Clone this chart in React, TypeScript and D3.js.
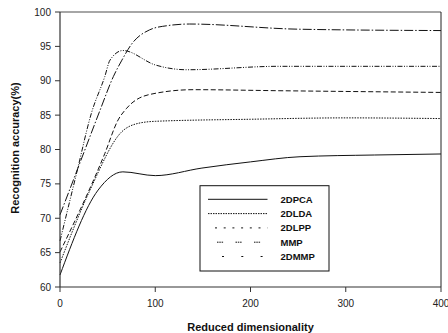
import React from "react";
import * as d3 from "d3";

const xTicks = [0, 100, 200, 300, 400];
const yTicks = [60, 65, 70, 75, 80, 85, 90, 95, 100];

const seriesNames = ["2DPCA", "2DLDA", "2DLPP", "MMP", "2DMMP"];

const dims2DPCA = [0, 40, 66, 100, 149, 200, 252, 330, 400];
const acc2DPCA = [61.75, 74.1, 76.75, 76.2, 77.3, 78.2, 78.95, 79.2, 79.35];

const dims2DLDA = [0, 31.5, 65, 82, 100, 200, 300, 400];
const acc2DLDA = [63.5, 74.1, 82.6, 83.8, 84.1, 84.4, 84.6, 84.5];

const dims2DLPP = [0, 47, 61, 70, 94, 140, 230, 400];
const acc2DLPP = [65.1, 79.4, 84.3, 86.0, 88.0, 88.7, 88.55, 88.3];

const dimsMMP = [0, 17.5, 33, 47, 52.5, 66, 100, 133, 230, 400];
const accMMP = [66.7, 76.6, 85.3, 90.6, 93.0, 94.4, 92.3, 91.6, 92.1, 92.1];

const dims2DMMP = [0, 10, 26, 42, 56, 65, 75, 94, 112, 136, 250, 400];
const acc2DMMP = [70.5, 74.1, 79.9, 85.7, 90.6, 93.0, 95.3, 97.4, 98.0, 98.25, 97.5, 97.3];

const allDims = [dims2DPCA, dims2DLDA, dims2DLPP, dimsMMP, dims2DMMP];
const allAcc = [acc2DPCA, acc2DLDA, acc2DLPP, accMMP, acc2DMMP];

const plotDash = ["", "1.5,1.2", "5,2.5", "5,1.5,1,1.5,1,1.5", "9,2,1.5,2"];
const legendDash = ["", "1.5,1", "2,6.7", "1.5,0.8,1.5,0.8,1.5,12.4", "2,17.3"];
const legendStart = [208, 208, 215, 217, 222];

const W = 448;
const H = 333;
const L = 60, R = 441, T = 12, B = 287;
const FONT = "'Liberation Sans', Arial, sans-serif";

export default function App() {
  const x = d3.scaleLinear().domain([0, 400]).range([L, R]);
  const y = d3.scaleLinear().domain([60, 100]).range([B, T]);
  const line = d3
    .line<[number, number]>()
    .x((d) => x(d[0]))
    .y((d) => y(d[1]))
    .curve(d3.curveMonotoneX);

  const legendY0 = 199.3;
  const legendStep = 14.3;

  return (
    <svg
      width={W}
      height={H}
      style={{ position: "absolute", left: 0, top: 0, background: "#fff" }}
    >
      {seriesNames.map((name, i) => {
        const pts = allDims[i].map((d, j) => [d, allAcc[i][j]] as [number, number]);
        return (
          <path
            key={name}
            d={line(pts) || ""}
            fill="none"
            stroke="#111"
            strokeWidth={1}
            strokeDasharray={plotDash[i] || undefined}
          />
        );
      })}

      <line x1={L} x2={R} y1={T} y2={T} stroke="#888" strokeWidth={1.6} />
      <line x1={R} x2={R} y1={T} y2={B} stroke="#222" strokeWidth={1} />
      <line x1={L} x2={L} y1={T} y2={B} stroke="#333" strokeWidth={1.2} />
      <line x1={L} x2={R} y1={B} y2={B} stroke="#333" strokeWidth={1.2} />

      {yTicks.map((t) => (
        <g key={"y" + t}>
          <line x1={L - 5} x2={L} y1={y(t)} y2={y(t)} stroke="#333" strokeWidth={1} />
          <text
            x={L - 9}
            y={y(t)}
            dy="0.35em"
            textAnchor="end"
            fontFamily={FONT}
            fontSize={10}
            fill="#222"
          >
            {t}
          </text>
        </g>
      ))}

      {xTicks.map((t) => (
        <g key={"x" + t}>
          <line x1={x(t)} x2={x(t)} y1={B} y2={B + 5} stroke="#333" strokeWidth={1} />
          <text
            x={x(t)}
            y={307}
            textAnchor="middle"
            fontFamily={FONT}
            fontSize={10}
            fill="#222"
          >
            {t}
          </text>
        </g>
      ))}

      <text
        x={(L + R) / 2}
        y={330.5}
        textAnchor="middle"
        fontFamily={FONT}
        fontSize={11}
        fontWeight="bold"
        fill="#111"
      >
        Reduced dimensionality
      </text>
      <text
        transform={`translate(19,148) rotate(-90)`}
        textAnchor="middle"
        fontFamily={FONT}
        fontSize={11}
        fontWeight="bold"
        fill="#111"
      >
        Recognition accuracy(%)
      </text>

      <rect x={200} y={185.7} width={129} height={85.3} fill="#fff" stroke="#111" strokeWidth={1} />
      {seriesNames.map((name, i) => {
        const ly = legendY0 + i * legendStep;
        return (
          <g key={"lg" + name}>
            <line
              x1={legendStart[i]}
              x2={267.5}
              y1={ly}
              y2={ly}
              stroke="#111"
              strokeWidth={1}
              strokeDasharray={legendDash[i] || undefined}
            />
            <text
              x={280.5}
              y={ly}
              dy="0.35em"
              fontFamily={FONT}
              fontSize={9.5}
              fontWeight="bold"
              fill="#111"
            >
              {name}
            </text>
          </g>
        );
      })}
    </svg>
  );
}
